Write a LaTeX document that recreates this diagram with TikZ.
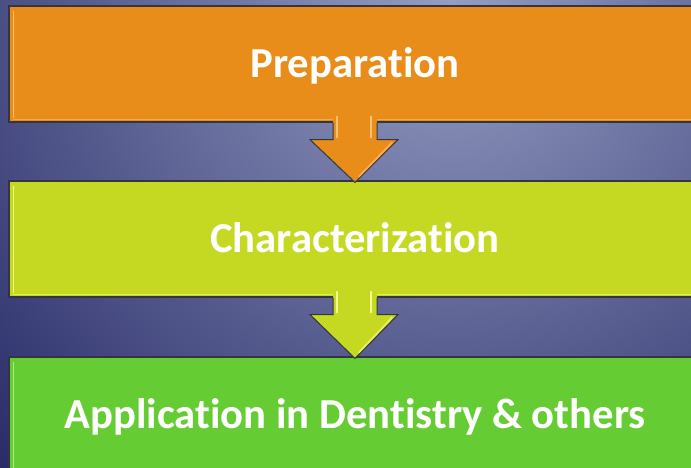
\documentclass[tikz,border=0pt]{standalone}
\usepackage{fontspec}
\setmainfont[Ligatures={NoCommon}]{Carlito}
\usetikzlibrary{calc}
\definecolor{bgLight}{HTML}{959DC2}
\definecolor{bgDark}{HTML}{282B68}
\definecolor{cOrange}{HTML}{E88C1A}
\definecolor{cOrangeHi}{HTML}{FFC070}
\definecolor{cLime}{HTML}{C5D923}
\definecolor{cLimeHi}{HTML}{F2FF8A}
\definecolor{cGreen}{HTML}{66CC33}
\definecolor{cGreenHi}{HTML}{A8F080}
\definecolor{edge}{HTML}{33353F}
\tikzset{
  stagebox/.style={draw=edge, line width=1.1pt, minimum width=692pt, minimum height=116pt,
    inner sep=0pt, text=white, text height=27pt, text depth=0pt,
    font=\fontsize{42.7}{48}\selectfont\bfseries},
  arrowedge/.style={draw=edge, line width=1pt, line join=miter},
  highlight/.style={line width=1.6pt, line cap=round},
}
\newcommand\stagehighlight[2]{%
  \draw[highlight, #2] ($(#1.north west)+(5,6)$) -- ($(#1.south west)+(5,-5)$);
  \draw[highlight, #2, opacity=0.6] ($(#1.south west)+(5,-3)$) -- ($(#1.south east)+(-5,-3)$);
}
\newcommand\flowarrow[4]{% from, to, fill, highlight
  \coordinate (sT) at ($(#1.south)+(0,-8)$);
  \coordinate (sB) at ($(#1.south)$);
  \coordinate (hT) at ($(#1.south)+(0,17)$);
  \coordinate (tp) at ($(#2.north)+(0,2)$);
  \fill[#3] ($(sT)+(-22,0)$) -- ($(hT)+(-22,0)$) -- ($(hT)+(-45,0)$) -- (tp)
     -- ($(hT)+(43,0)$) -- ($(hT)+(22,0)$) -- ($(sT)+(22,0)$) -- cycle;
  \draw[arrowedge] ($(sB)+(-22,0)$) -- ($(hT)+(-22,0)$) -- ($(hT)+(-45,0)$) -- (tp)
     -- ($(hT)+(43,0)$) -- ($(hT)+(22,0)$) -- ($(sB)+(22,0)$);
  \draw[highlight, #4] ($(sT)+(-18,2)$) -- ($(hT)+(-18,-2)$);
  \draw[highlight, #4] ($(sT)+(16,2)$) -- ($(hT)+(16,-2)$);
  \draw[highlight, #4, opacity=0.7] ($(hT)+(37,3)$) -- ($(tp)+(4,-6)$);
}
\begin{document}
\begin{tikzpicture}[x=1pt, y=-1pt]
  \useasboundingbox (0,0) rectangle (691,468);
  \begin{scope}
    \clip (0,0) rectangle (691,468);
    \fill[bgDark] (0,0) rectangle (691,468);
    \shade[inner color=bgLight, outer color=bgDark] (450,0) circle (650pt);
  \end{scope}
  \node[stagebox, fill=cOrange] (b1) at (355,64) {Preparation};
  \node[stagebox, fill=cLime]   (b2) at (355,239) {Characterization};
  \node[stagebox, fill=cGreen]  (b3) at (355,415) {Application in Dentistry \& others};
  \stagehighlight{b1}{cOrangeHi}
  \stagehighlight{b2}{cLimeHi}
  \stagehighlight{b3}{cGreenHi}
  \flowarrow{b1}{b2}{cOrange}{cOrangeHi}
  \flowarrow{b2}{b3}{cLime}{cLimeHi}
\end{tikzpicture}
\end{document}
